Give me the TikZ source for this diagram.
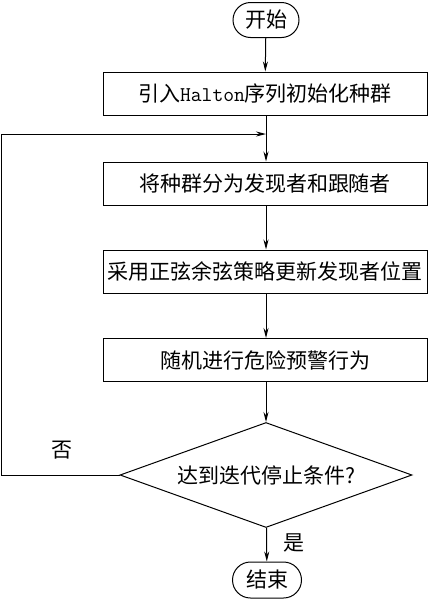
\documentclass[tikz,border=0pt]{standalone}
\usepackage{fontspec}
\setmainfont{Noto Sans CJK SC}
\usepackage{tikz}
\usetikzlibrary{shapes,shapes.geometric,shapes.misc,arrows.meta}

\begin{document}
\begin{tikzpicture}[x=1pt,y=-1pt]
			\tikzstyle{every node}=[font=\fontsize{21}{25}\selectfont]
			\tikzstyle{tnode}=[rounded rectangle, draw, line width=1pt, minimum width=66pt, minimum height=35pt, inner sep=0pt]
			\tikzstyle{pnode}=[rectangle, draw, line width=1pt, minimum width=324pt, minimum height=43pt, inner sep=0pt]
			\tikzstyle{dnode}=[diamond, draw, line width=1pt, minimum width=292pt, minimum height=105pt, aspect=2.78, inner sep=0pt]
			\tikzstyle{arr}=[draw, line width=1pt, -{Stealth[length=10pt,width=5pt]}]
			\useasboundingbox (0,0) rectangle (428,600);
			\node[tnode] (start) at (266,20) {开始};
			\node[pnode] (init) at (265,93.5) {引入{\ttfamily Halton}序列初始化种群};
			\node[pnode] (split) at (265,183.5) {将种群分为发现者和跟随者};
			\node[pnode] (sine) at (265,271.5) {采用正弦余弦策略更新发现者位置};
			\node[pnode] (warn) at (265,360) {随机进行危险预警行为};
			\node[dnode] (stop) at (266,475) {达到迭代停止条件?};
			\node[tnode, minimum width=69pt, minimum height=36pt] (end) at (267,580) {结束};
			\coordinate (merge) at (266,134);
			\node (no) at (62,450) {否};
			\node (yes) at (294,543) {是};
			\draw[arr] (start) -- (init);
			\draw[arr] (init.south -| merge) -- (split.north -| merge);
			\draw[arr] (split.south -| merge) -- (sine.north -| merge);
			\draw[arr] (sine.south -| merge) -- (warn.north -| merge);
			\draw[arr] (warn.south -| merge) -- (stop);
			\draw[arr] (stop) -- (end);
			\draw[arr] (stop.west) -- ++(-118,0) |- (merge);
\end{tikzpicture}
\end{document}
